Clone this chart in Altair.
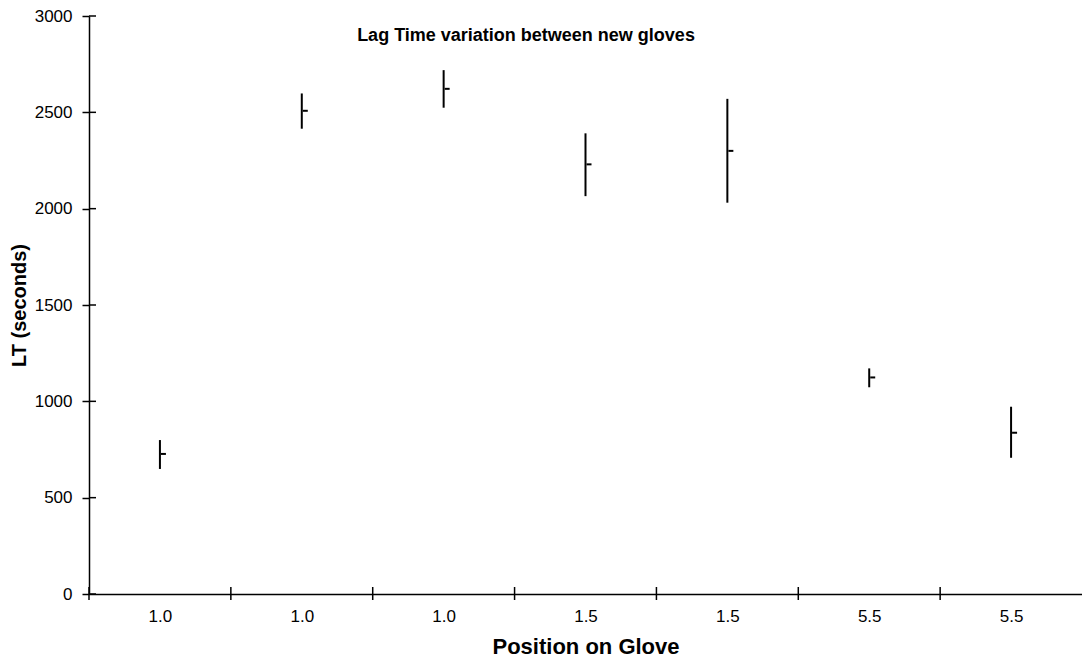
import json
import altair as alt
import pandas as pd

# ---- data ----
positions = ["1.0", "1.0", "1.0", "1.5", "1.5", "5.5", "5.5"]
lt_high = [799, 2598, 2719, 2391, 2570, 1171, 972]
lt_low = [649, 2415, 2524, 2065, 2031, 1073, 707]
lt_mean = [727, 2508, 2622, 2230, 2300, 1124, 837]
y_ticks = [0, 500, 1000, 1500, 2000, 2500, 3000]
title_text = "Lag Time variation between new gloves"

n = len(positions)
df = pd.DataFrame({
    "idx": [i + 0.5 for i in range(n)],
    "pos": positions,
    "high": lt_high,
    "low": lt_low,
    "mean": lt_mean,
})
bounds = pd.DataFrame({"b": list(range(n))})
yt = pd.DataFrame({"v": y_ticks})

W, H = 993, 578
FONT = "Liberation Sans"

label_expr = "{}[floor(datum.value)]".format(json.dumps(positions))

xscale = alt.Scale(domain=[0, n], nice=False, zero=False)
yscale = alt.Scale(domain=[0, 3000], nice=False)

x_axis = alt.Axis(
    values=[i + 0.5 for i in range(n)],
    labelExpr=label_expr,
    ticks=False,
    grid=False,
    domainColor="black",
    domainWidth=1.5,
    labelFontSize=17,
    labelFont=FONT,
    labelColor="black",
    labelPadding=14,
    title="Position on Glove",
    titleFont=FONT,
    titleFontSize=22,
    titleFontWeight="bold",
    titleColor="black",
    titlePadding=12,
)
y_axis = alt.Axis(
    values=y_ticks,
    format="d",
    grid=False,
    domainColor="black",
    domainWidth=1.5,
    tickColor="black",
    tickWidth=1.5,
    tickSize=7,
    labelFontSize=17,
    labelFont=FONT,
    labelColor="black",
    labelPadding=10,
    title="LT (seconds)",
    titleFont=FONT,
    titleFontSize=20,
    titleFontWeight="bold",
    titleColor="black",
    titlePadding=5,
)

base = alt.Chart(df)

bars = base.mark_rule(color="black", strokeWidth=2).encode(
    x=alt.X("idx:Q", scale=xscale, axis=x_axis),
    y=alt.Y("low:Q", scale=yscale, axis=y_axis),
    y2="high:Q",
)

means = base.mark_rule(color="black", strokeWidth=2, xOffset=1, x2Offset=6).encode(
    x=alt.X("idx:Q", scale=xscale),
    x2="idx:Q",
    y=alt.Y("mean:Q", scale=yscale),
)

xticks = alt.Chart(bounds).mark_rule(color="black", strokeWidth=1.5).encode(
    x=alt.X("b:Q", scale=xscale),
    y=alt.value(H - 7),
    y2=alt.value(H + 6),
)

yticks_in = alt.Chart(yt).mark_rule(color="black", strokeWidth=1.5).encode(
    y=alt.Y("v:Q", scale=yscale),
    x=alt.value(0),
    x2=alt.value(7),
)

title = alt.Chart(pd.DataFrame({"t": [title_text]})).mark_text(
    font=FONT, fontSize=18, fontWeight="bold", color="black", align="center", baseline="middle"
).encode(text="t:N", x=alt.value(437), y=alt.value(20))

chart = alt.layer(bars, means, xticks, yticks_in, title).properties(
    width=W,
    height=H,
    autosize=alt.AutoSizeParams(type="none"),
    padding={"left": 89, "top": 16, "right": 0, "bottom": 70},
    background="white",
).configure_view(stroke=None)

chart.save("out.html", embed_options={"renderer": "svg", "actions": False})
